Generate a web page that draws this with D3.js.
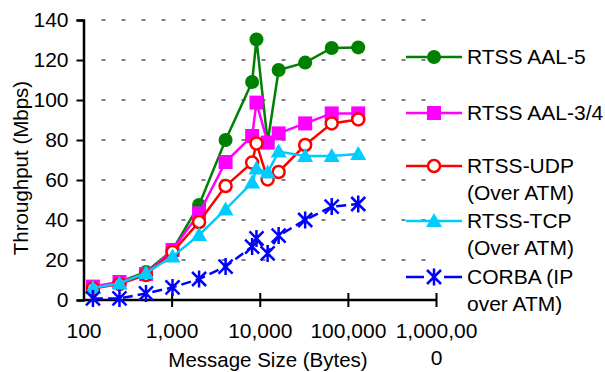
<!DOCTYPE html>
<html>
<head>
<meta charset="utf-8">
<title>Throughput vs Message Size</title>
<script src="https://cdnjs.cloudflare.com/ajax/libs/d3/7.8.5/d3.min.js"></script>
<style>
  body { margin: 0; background: #fff; }
  svg text { font-family: "Liberation Sans", Arial, sans-serif; fill: #000; }
</style>
</head>
<body>
<script>
// message sizes (bytes)
var sizes = [128, 256, 512, 1024, 2048, 4096, 8192, 9180, 12288, 16384, 32768, 65536, 131072];

// throughput (Mbps) per series
var aal5   = [6, 9, 14, 25, 47.5, 80, 109, 130.3, 79, 115, 118.7, 126, 126.3];
var aal34  = [6.7, 9, 13, 25, 43.3, 69, 82, 98.7, 78.7, 83.3, 88.3, 93.3, 93.3];
var udp    = [5.8, 8, 12.5, 24, 39, 57, 68.7, 78.3, 60.3, 64, 77.5, 88.3, 90.3];
var tcp    = [6, 8.3, 13.5, 21.7, 32.5, 45.3, 58.7, 65.8, 63.7, 74.2, 72, 72, 73];
var corba  = [0.8, 0.8, 3.3, 6.3, 10.5, 16.7, 26.7, 30.8, 23.3, 32.2, 40, 46.7, 48];

var seriesNames = [["RTSS AAL-5"], ["RTSS AAL-3/4"], ["RTSS-UDP", "(Over ATM)"],
                   ["RTSS-TCP", "(Over ATM)"], ["CORBA (IP", "over ATM)"]];

var xTicks = [100, 1000, 10000, 100000, 1000000];
var xTickLabels = [["100"], ["1,000"], ["10,000"], ["100,000"], ["1,000,00", "0"]];
var yTicks = [0, 20, 40, 60, 80, 100, 120, 140];

var series = [
  { name: seriesNames[0], values: aal5,  color: "#008000", marker: "dot" },
  { name: seriesNames[1], values: aal34, color: "#ff00ff", marker: "square" },
  { name: seriesNames[2], values: udp,   color: "#ff0000", marker: "ring" },
  { name: seriesNames[3], values: tcp,   color: "#00ccff", marker: "triangle" },
  { name: seriesNames[4], values: corba, color: "#0000ff", marker: "star", dash: "10,5", legendDash: "18,20" }
];

var W = 605, H = 372;
var svg = d3.select("body").append("svg").attr("width", W).attr("height", H);

var x = d3.scaleLog().domain([100, 1000000]).range([83.5, 436]);
var y = d3.scaleLinear().domain([0, 140]).range([300, 20]);

// dashed grid lines
svg.append("g").selectAll("line")
  .data(yTicks.filter(function(d) { return d > 0; }))
  .enter().append("line")
  .attr("x1", x(100) + 18).attr("x2", x(1000000))
  .attr("y1", function(d) { return y(d); }).attr("y2", function(d) { return y(d); })
  .attr("stroke", "#000").attr("stroke-width", 1)
  .attr("stroke-dasharray", "4,16");

// y axis
var yAxis = d3.axisLeft(y).tickValues(yTicks).tickSize(7).tickPadding(8);
var gy = svg.append("g").attr("transform", "translate(" + x(100) + ",0)").call(yAxis);
gy.select(".domain").attr("stroke-width", 2.5);
gy.selectAll(".tick line").attr("stroke-width", 2);
gy.selectAll(".tick text").style("font-size", "21px");

// x axis (ticks cross the axis line)
var xAxis = d3.axisBottom(x).tickValues(xTicks).tickSize(7).tickFormat("");
var gx = svg.append("g").attr("transform", "translate(0," + y(0) + ")").call(xAxis);
gx.select(".domain").attr("stroke-width", 2.5).attr("d", "M" + x(100) + ",0H" + x(1000000));
gx.selectAll(".tick line").attr("y1", -7).attr("stroke-width", 2);
gx.selectAll(".tick").filter(function(d) { return d === 100; }).select("line").remove();
gx.selectAll(".tick").each(function(d, i) {
  var t = d3.select(this).append("text").attr("text-anchor", "middle")
    .style("font-size", "21px").attr("fill", "#000");
  xTickLabels[i].forEach(function(s, j) {
    t.append("tspan").attr("x", 0).attr("y", 38 + j * 27).text(s);
  });
});

// axis titles
svg.append("text").attr("x", 268).attr("y", 367).attr("text-anchor", "middle")
  .style("font-size", "20.5px").text("Message Size (Bytes)");
svg.append("text").attr("transform", "translate(28,168) rotate(-90)")
  .attr("text-anchor", "middle").style("font-size", "20.5px").text("Throughput (Mbps)");

// marker drawing
function drawMarker(g, type, color) {
  if (type === "dot") {
    g.append("circle").attr("r", 7).attr("fill", color);
  } else if (type === "square") {
    g.append("rect").attr("x", -7).attr("y", -7).attr("width", 14).attr("height", 14).attr("fill", color);
  } else if (type === "ring") {
    g.append("circle").attr("r", 6).attr("fill", "#fff").attr("stroke", color).attr("stroke-width", 2.5);
  } else if (type === "triangle") {
    g.append("path").attr("d", "M0,-8L8,6L-8,6Z").attr("fill", color);
  } else if (type === "star") {
    g.append("path").attr("d", "M-7,-7L7,7M-7,7L7,-7M0,-8.5L0,8.5")
      .attr("stroke", color).attr("stroke-width", 2.5).attr("fill", "none");
  }
}

var line = d3.line()
  .x(function(d, i) { return x(sizes[i]); })
  .y(function(d) { return y(d); });

series.forEach(function(s) {
  svg.append("path").datum(s.values).attr("d", line)
    .attr("fill", "none").attr("stroke", s.color).attr("stroke-width", 2.5)
    .attr("stroke-dasharray", s.dash || null);
  s.values.forEach(function(v, i) {
    var g = svg.append("g").attr("transform", "translate(" + x(sizes[i]) + "," + y(v) + ")");
    drawMarker(g, s.marker, s.color);
  });
});

// legend
var legendY = [57, 113, 166, 221, 277];
series.forEach(function(s, i) {
  var g = svg.append("g").attr("transform", "translate(0," + legendY[i] + ")");
  g.append("line").attr("x1", 406).attr("x2", 462).attr("y1", 0).attr("y2", 0)
    .attr("stroke", s.color).attr("stroke-width", 2.5)
    .attr("stroke-dasharray", s.legendDash || null);
  var m = g.append("g").attr("transform", "translate(434,0)");
  drawMarker(m, s.marker, s.color);
  var t = g.append("text").style("font-size", "21px");
  s.name.forEach(function(n, j) {
    t.append("tspan").attr("x", 467).attr("y", 7 + j * 27).text(n);
  });
});
</script>
</body>
</html>
